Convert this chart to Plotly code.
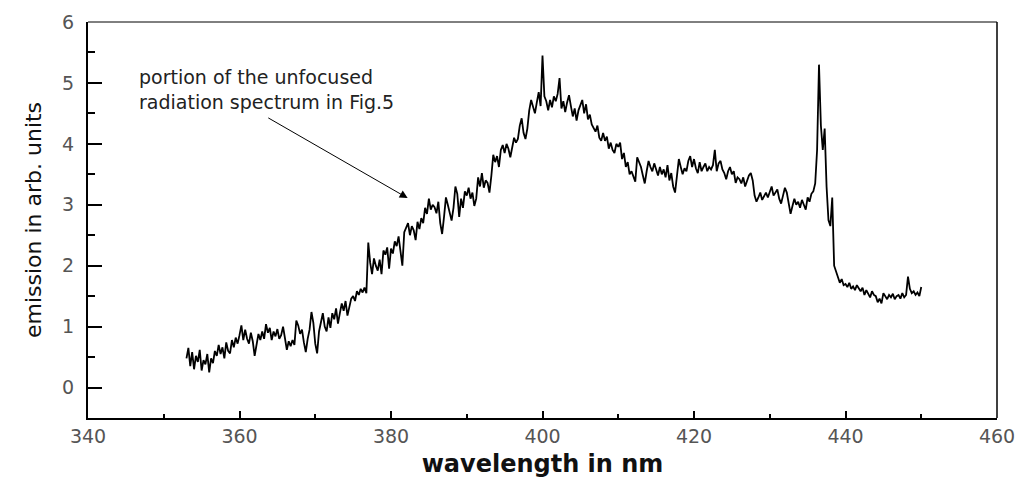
import plotly.graph_objects as go

wl_start = 353.0
wl_step = 0.25
emission = [
    0.48, 0.65, 0.35, 0.58,  0.30, 0.52, 0.42, 0.62,  0.28, 0.45, 0.38, 0.55,
    0.25, 0.48, 0.40, 0.60,  0.52, 0.70, 0.55, 0.66,  0.48, 0.74, 0.60, 0.56,
    0.78, 0.66, 0.82, 0.72,  0.86, 1.02, 0.78, 0.95,  0.80, 0.72, 0.90, 0.76,
    0.52, 0.72, 0.88, 0.78,  0.92, 0.80, 1.04, 0.90,  0.98, 0.78, 0.92, 0.84,
    0.96, 0.80, 0.86, 1.00,  0.82, 0.62, 0.76, 0.68,  0.78, 0.70, 1.10, 1.02,
    0.88, 0.95, 0.74, 0.58,  0.80, 0.95, 1.24, 1.06,  0.72, 0.56, 0.92, 1.10,
    1.22, 1.00, 0.92, 1.15,  0.98, 1.22, 1.12, 1.30,  1.05, 1.22, 1.38, 1.26,
    1.42, 1.18, 1.34, 1.46,  1.50, 1.42, 1.58, 1.52,  1.62, 1.56, 1.64, 1.55,
    2.38, 2.05, 1.86, 2.12,  2.00, 1.92, 2.10, 1.86,  2.25, 2.18, 2.30, 1.95,
    2.28, 2.20, 2.40, 2.32,  2.48, 2.28, 2.00, 2.55,  2.62, 2.70, 2.50, 2.65,
    2.58, 2.42, 2.72, 2.60,  2.78, 2.70, 2.95, 2.85,  3.10, 2.92, 3.00, 2.96,
    2.86, 3.05, 2.70, 2.52,  2.80, 3.12, 3.00, 2.88,  2.74, 2.95, 3.30, 3.18,
    2.80, 3.10, 2.95, 3.22,  3.15, 3.28, 3.10, 3.20,  2.98, 3.10, 3.45, 3.30,
    3.52, 3.28, 3.40, 3.36,  3.20, 3.48, 3.82, 3.70,  3.80, 3.62, 3.90, 3.98,
    3.85, 4.00, 3.92, 3.78,  3.96, 4.10, 4.02, 4.08,  4.30, 4.42, 4.18, 4.08,
    4.25, 4.55, 4.72, 4.60,  4.50, 4.68, 4.85, 4.62,  5.45, 4.78, 4.70, 4.55,
    4.72, 4.60, 4.78, 4.70,  4.82, 5.08, 4.58, 4.70,  4.52, 4.68, 4.80, 4.62,
    4.45, 4.58, 4.38, 4.55,  4.62, 4.72, 4.50, 4.65,  4.40, 4.48, 4.32, 4.25,
    4.20, 4.30, 4.10, 4.05,  4.18, 4.05, 4.12, 3.92,  4.02, 3.90, 3.85, 4.00,
    3.95, 4.02, 3.75, 3.85,  3.62, 3.70, 3.50, 3.55,  3.45, 3.38, 3.78, 3.70,
    3.62, 3.48, 3.35, 3.55,  3.72, 3.62, 3.55, 3.68,  3.58, 3.48, 3.62, 3.50,
    3.58, 3.45, 3.65, 3.40,  3.52, 3.30, 3.20, 3.45,  3.75, 3.62, 3.50, 3.60,
    3.55, 3.72, 3.80, 3.62,  3.75, 3.60, 3.52, 3.70,  3.55, 3.62, 3.68, 3.55,
    3.62, 3.58, 3.65, 3.90,  3.55, 3.68, 3.72, 3.58,  3.52, 3.42, 3.55, 3.62,
    3.50, 3.55, 3.36, 3.45,  3.42, 3.35, 3.45, 3.30,  3.38, 3.48, 3.52, 3.40,
    3.15, 3.05, 3.12, 3.20,  3.08, 3.15, 3.20, 3.12,  3.22, 3.30, 3.15, 3.20,
    3.25, 3.10, 3.02, 3.15,  3.28, 3.20, 3.05, 2.85,  2.98, 3.10, 3.00, 3.05,
    2.95, 3.08, 3.00, 2.92,  3.12, 3.05, 3.18, 3.22,  3.35, 3.90, 5.30, 4.30,
    3.90, 4.25, 3.30, 2.75,  2.65, 3.12, 2.00, 1.90,  1.80, 1.72, 1.78, 1.68,
    1.70, 1.65, 1.72, 1.62,  1.66, 1.60, 1.68, 1.62,  1.58, 1.64, 1.52, 1.60,
    1.55, 1.48, 1.58, 1.52,  1.50, 1.40, 1.46, 1.38,  1.55, 1.50, 1.45, 1.52,
    1.48, 1.54, 1.45, 1.50,  1.52, 1.46, 1.55, 1.48,  1.52, 1.82, 1.62, 1.55,
    1.58, 1.52, 1.56, 1.50,  1.65,
]
wavelength = [wl_start + i * wl_step for i in range(len(emission))]

x_ticks = [340, 360, 380, 400, 420, 440, 460]
y_ticks = [0, 1, 2, 3, 4, 5, 6]

note_text = "portion of the unfocused<br>radiation spectrum in Fig.5"
note_pos = (346.5, 4.9)
arrow_tip = (382.2, 3.11)
arrow_tail = (363.6, 4.44)

fig = go.Figure()
fig.add_trace(go.Scatter(x=wavelength, y=emission, mode="lines",
                         line=dict(color="black", width=1.8), showlegend=False))

tickfont = dict(family="DejaVu Sans", size=19, color="#555555")
fig.update_layout(
    width=1020, height=478,
    margin=dict(l=88, r=23, t=22, b=60),
    paper_bgcolor="white", plot_bgcolor="white",
    xaxis=dict(range=[340, 460], tickvals=x_ticks, ticks="inside", ticklen=7,
               tickwidth=2, tickcolor="black", showline=True, linewidth=2,
               linecolor="black", showgrid=False, zeroline=False, automargin=False,
               tickfont=tickfont, ticklabeloverflow="allow",
               minor=dict(dtick=10, tick0=340, ticks="inside", ticklen=4,
                          tickwidth=2, tickcolor="black", showgrid=False),
               title=dict(text="wavelength in nm", standoff=14,
                          font=dict(family="DejaVu Sans", size=24, color="#111111",
                                    weight="bold"))),
    yaxis=dict(range=[-0.5, 6], tickvals=y_ticks, ticks="inside", ticklen=14,
               tickwidth=2, tickcolor="black", showline=True, linewidth=2,
               linecolor="black", showgrid=False, zeroline=False, automargin=False,
               tickfont=tickfont, ticklabelstandoff=8,
               minor=dict(dtick=0.5, tick0=0, ticks="inside", ticklen=7,
                          tickwidth=2, tickcolor="black", showgrid=False),
               title=dict(text="emission in arb. units", standoff=14,
                          font=dict(family="DejaVu Sans", size=22, color="#111111"))),
)
fig.add_shape(type="line", xref="paper", yref="paper", x0=0, x1=1, y0=1, y1=1,
              line=dict(color="black", width=1))
fig.add_shape(type="line", xref="paper", yref="paper", x0=1, x1=1, y0=0, y1=1,
              line=dict(color="black", width=1.5))
fig.add_annotation(x=note_pos[0], y=note_pos[1], text=note_text, showarrow=False,
                   xanchor="left", yanchor="middle", align="left",
                   font=dict(family="DejaVu Sans", size=19, color="#222222"))
fig.add_annotation(x=arrow_tip[0], y=arrow_tip[1], ax=arrow_tail[0], ay=arrow_tail[1],
                   axref="x", ayref="y", text="", showarrow=True, arrowhead=2,
                   arrowsize=1.6, arrowwidth=1, arrowcolor="black")

fig.write_html("out.html", config={"displayModeBar": False},
               post_script="document.body.style.margin='0';"
                           "document.body.style.overflow='hidden';")
